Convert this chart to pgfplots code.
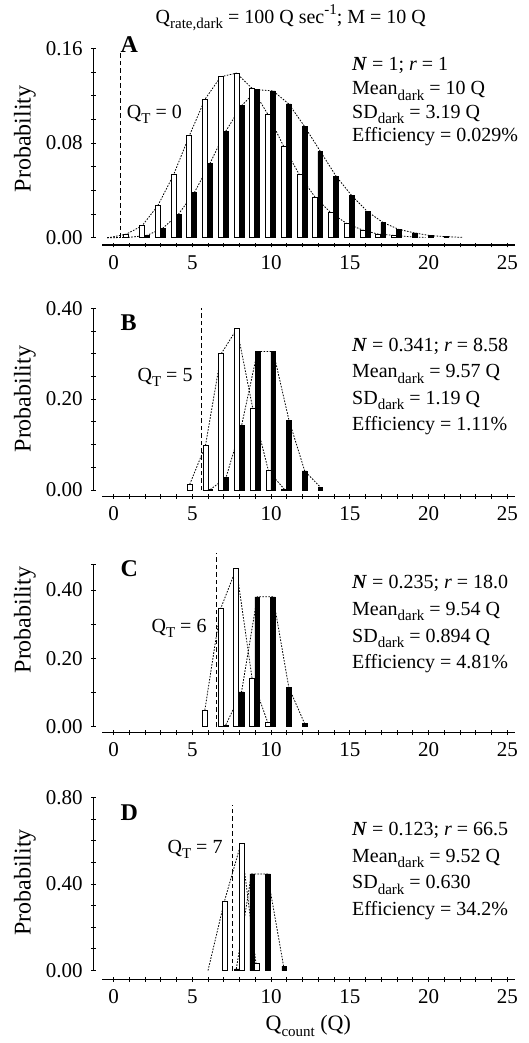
\documentclass[border=0pt]{standalone}
\usepackage{fontspec}
\setmainfont{Liberation Serif}
\usepackage{pgfplots}
\pgfplotsset{compat=1.18}
\newcommand\sub[1]{\raisebox{-0.28em}{\fontsize{15}{15}\selectfont #1}}
\newcommand\sups[1]{\raisebox{0.42em}{\fontsize{15}{15}\selectfont #1}}
\pgfplotsset{
 common/.style={
  scale only axis, clip=false,
  tick align=outside, major tick length=4.5pt, minor tick length=4.5pt,
  major tick style={line width=0.9pt, black},
  minor tick style={line width=0.9pt, black},
  tick label style={font=\fontsize{21}{21}\selectfont},
  /pgf/number format/assume math mode=true,
 },
 noarrows/.style={
  axis line style={-, line width=1.1pt, black},
  every outer x axis line/.append style={-},
  every outer y axis line/.append style={-},
  every inner x axis line/.append style={-},
  every inner y axis line/.append style={-},
  x axis line style={-},
  y axis line style={-},
 },
 % data axis with the y axis line; its box starts at pixel x = 93.3
 yaxis/.style={common,
  width=421.8pt, xmin=-1.283, xmax=25.5, ymin=0,
  axis y line=left, axis x line=none, noarrows,
  yticklabel shift=5pt,
  yticklabel style={/pgf/number format/fixed, /pgf/number format/fixed zerofill, /pgf/number format/precision=2},
  scaled y ticks=false,
 },
 % x axis line only
 xaxis/.style={common,
  width=412.65pt, height=10pt, xmin=-0.7, xmax=25.5, ymin=0, ymax=1,
  axis x line=bottom, axis y line=none, noarrows,
  xtick={0,5,...,25}, minor xtick={0,1,...,25},
  xticklabel shift=4.5pt,
 },
 wbar/.style={ybar, bar shift=0pt, bar width=5pt, fill=white, draw=black, line width=0.95pt},
 bbar/.style={ybar, bar shift=0pt, bar width=4.6pt, fill=black, draw=black, line width=0.5pt},
 curve/.style={black, line width=0.8pt, dash pattern=on 1.6pt off 1.4pt, no marks},
 thr/.style={black, line width=1.1pt, dash pattern=on 4.5pt off 3pt, no marks},
}
\begin{document}
\begin{tikzpicture}
\path[use as bounding box] (0pt,0pt) rectangle (528pt,-1043pt);
% ---------------- Panel A
\begin{axis}[xaxis, at={(102.475pt,-245pt)}, anchor=south west]
\end{axis}
\begin{axis}[yaxis, at={(93.3pt,-237.7pt)}, anchor=south west, height=189.4pt,
  ymax=0.16, ytick={0,0.08,0.16}, minor ytick={0,0.02,...,0.16}]
\addplot[curve] table {
-0.40 0.0
-0.19 0.0003
0.81 0.003
1.81 0.010
2.81 0.027
3.81 0.053
4.81 0.086
5.81 0.117
6.81 0.136
7.81 0.139
8.81 0.126
9.81 0.104
10.81 0.077
11.81 0.053
12.81 0.034
13.81 0.021
14.81 0.012
15.81 0.0065
16.81 0.003
17.81 0.002
18.81 0.0008
19.81 0.0002
};
\addplot[curve] table {
-0.40 0.0
0.13 0.00005
1.13 0.0005
2.13 0.002
3.13 0.008
4.13 0.020
5.13 0.038
6.13 0.063
7.13 0.090
8.13 0.1115
9.13 0.125
10.13 0.124
11.13 0.113
12.13 0.094
13.13 0.073
14.13 0.052
15.13 0.0355
16.13 0.022
17.13 0.0127
18.13 0.007
19.13 0.004
20.13 0.0017
21.13 0.0009
22.13 0.0003
};
\addplot[wbar] table {
0.81 0.003
1.81 0.010
2.81 0.027
3.81 0.053
4.81 0.086
5.81 0.117
6.81 0.136
7.81 0.139
8.81 0.126
9.81 0.104
10.81 0.077
11.81 0.053
12.81 0.034
13.81 0.021
14.81 0.012
15.81 0.0065
16.81 0.003
17.81 0.002
};
\addplot[bbar] table {
2.13 0.002
3.13 0.008
4.13 0.020
5.13 0.038
6.13 0.063
7.13 0.090
8.13 0.1115
9.13 0.125
10.13 0.124
11.13 0.113
12.13 0.094
13.13 0.073
14.13 0.052
15.13 0.0355
16.13 0.022
17.13 0.0127
18.13 0.007
19.13 0.004
20.13 0.0017
21.13 0.0009
};
\addplot[thr] coordinates {(0.46,0) (0.46,0.1558)};
\end{axis}
% ---------------- Panel B
\begin{axis}[xaxis, at={(102.475pt,-496.7pt)}, anchor=south west]
\end{axis}
\begin{axis}[yaxis, at={(93.3pt,-490pt)}, anchor=south west, height=181.7pt,
  ymax=0.40, ytick={0,0.2,0.4}, minor ytick={0,0.05,...,0.40}]
\addplot[curve] table {
4.84 0.0125
5.84 0.098
6.84 0.300
7.84 0.355
8.84 0.180
9.84 0.042
10.84 0.002
};
\addplot[curve] table {
6.14 0.001
7.14 0.027
8.14 0.143
9.14 0.305
10.14 0.305
11.14 0.154
12.14 0.042
13.14 0.006
};
\addplot[wbar] table {
4.84 0.0125
5.84 0.098
6.84 0.300
7.84 0.355
8.84 0.180
9.84 0.042
10.84 0.002
};
\addplot[bbar] table {
6.14 0.001
7.14 0.027
8.14 0.143
9.14 0.305
10.14 0.305
11.14 0.154
12.14 0.042
13.14 0.006
};
\addplot[thr] coordinates {(5.56,0) (5.56,0.40)};
\end{axis}
% ---------------- Panel C
\begin{axis}[xaxis, at={(102.475pt,-732.7pt)}, anchor=south west]
\end{axis}
\begin{axis}[yaxis, at={(93.3pt,-726.7pt)}, anchor=south west, height=162.7pt,
  ymax=0.476, ytick={0,0.2,0.4}, minor ytick={0,0.1,0.2,0.3,0.4,0.476}]
\addplot[curve] table {
5.80 0.0485
6.80 0.345
7.80 0.463
8.80 0.141
9.80 0.0117
};
\addplot[curve] table {
7.13 0.005
8.13 0.102
9.13 0.380
10.13 0.380
11.13 0.115
12.13 0.0097
};
\addplot[wbar] table {
5.80 0.0485
6.80 0.345
7.80 0.463
8.80 0.141
9.80 0.0117
};
\addplot[bbar] table {
7.13 0.005
8.13 0.102
9.13 0.380
10.13 0.380
11.13 0.115
12.13 0.0097
};
\addplot[thr] coordinates {(6.52,0) (6.52,0.508)};
\end{axis}
% ---------------- Panel D
\begin{axis}[xaxis, at={(102.475pt,-979.3pt)}, anchor=south west]
\end{axis}
\begin{axis}[yaxis, at={(93.3pt,-970.5pt)}, anchor=south west, height=172.8pt,
  ymax=0.80, ytick={0,0.4,0.8}, minor ytick={0,0.1,...,0.8}]
\addplot[curve] table {
6.00 0.0
7.04 0.320
8.10 0.590
9.05 0.031
};
\addplot[curve] table {
7.80 0.008
8.76 0.447
9.77 0.447
10.80 0.020
};
\addplot[wbar] table {
7.09 0.320
8.15 0.590
9.10 0.031
};
\addplot[bbar] table {
7.84 0.008
8.80 0.447
9.81 0.447
10.83 0.020
};
\addplot[thr] coordinates {(7.53,0) (7.53,0.766)};
\end{axis}
% ---------------- Texts
\begin{scope}[every node/.style={inner sep=0pt, font=\fontsize{20}{24}\selectfont}]
\node[anchor=base] at (290.8pt,-23.3pt) {Q\sub{rate,dark} = 100 Q sec\sups{-1}; M = 10 Q};
\node[anchor=base west, font=\fontsize{24}{24}\selectfont\bfseries] at (120.5pt,-53pt) {A};
\node[anchor=base west, font=\fontsize{24}{24}\selectfont\bfseries] at (120.5pt,-330pt) {B};
\node[anchor=base west, font=\fontsize{24}{24}\selectfont\bfseries] at (120.5pt,-576pt) {C};
\node[anchor=base west, font=\fontsize{24}{24}\selectfont\bfseries] at (120.5pt,-820pt) {D};
\node[anchor=base west] at (126.7pt,-118.3pt) {Q\sub{T} = 0};
\node[anchor=base east] at (192.7pt,-381pt) {Q\sub{T} = 5};
\node[anchor=base east] at (206.7pt,-632.3pt) {Q\sub{T} = 6};
\node[anchor=base east] at (222.7pt,-853.3pt) {Q\sub{T} = 7};
\node[rotate=90, font=\fontsize{24}{24}\selectfont] at (25pt,-139pt) {Probability};
\node[rotate=90, font=\fontsize{24}{24}\selectfont] at (25pt,-399pt) {Probability};
\node[rotate=90, font=\fontsize{24}{24}\selectfont] at (25pt,-620pt) {Probability};
\node[rotate=90, font=\fontsize{24}{24}\selectfont] at (25pt,-882.5pt) {Probability};
\node[anchor=base, font=\fontsize{22}{22}\selectfont] at (308.3pt,-1030pt) {Q\sub{count} (Q)};
\node[anchor=base west] at (352pt,-70.7pt) {\textbf{\textit{N}} = 1; \textit{r} = 1};
\node[anchor=base west] at (352pt,-95pt) {Mean\sub{dark} = 10 Q};
\node[anchor=base west] at (352pt,-118.3pt) {SD\sub{dark} = 3.19 Q};
\node[anchor=base west] at (352pt,-141.7pt) {Efficiency = 0.029\%};
\node[anchor=base west] at (352pt,-351.5pt) {\textbf{\textit{N}} = 0.341; \textit{r} = 8.58};
\node[anchor=base west] at (352pt,-377.5pt) {Mean\sub{dark} = 9.57 Q};
\node[anchor=base west] at (352pt,-404pt) {SD\sub{dark} = 1.19 Q};
\node[anchor=base west] at (352pt,-430pt) {Efficiency = 1.11\%};
\node[anchor=base west] at (352pt,-588.7pt) {\textbf{\textit{N}} = 0.235; \textit{r} = 18.0};
\node[anchor=base west] at (352pt,-615pt) {Mean\sub{dark} = 9.54 Q};
\node[anchor=base west] at (352pt,-642pt) {SD\sub{dark} = 0.894 Q};
\node[anchor=base west] at (352pt,-668.7pt) {Efficiency = 4.81\%};
\node[anchor=base west] at (352pt,-835.3pt) {\textbf{\textit{N}} = 0.123; \textit{r} = 66.5};
\node[anchor=base west] at (352pt,-862pt) {Mean\sub{dark} = 9.52 Q};
\node[anchor=base west] at (352pt,-888.7pt) {SD\sub{dark} = 0.630};
\node[anchor=base west] at (352pt,-915.3pt) {Efficiency = 34.2\%};
\end{scope}
\end{tikzpicture}
\end{document}
